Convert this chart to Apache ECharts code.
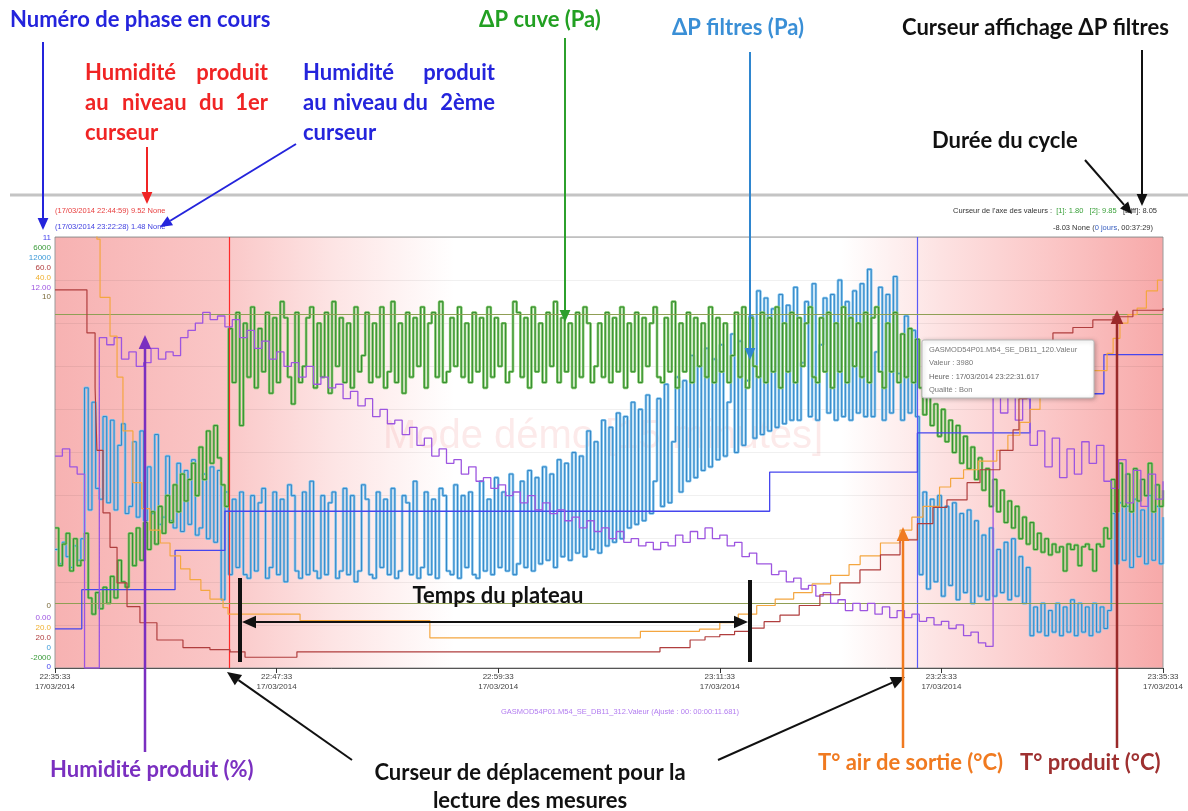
<!DOCTYPE html>
<html><head><meta charset="utf-8">
<script src="https://cdn.jsdelivr.net/npm/echarts@6/dist/echarts.min.js"></script>
<style>html,body{margin:0;padding:0;background:#fff}#c{width:1188px;height:811px}</style>
</head><body><div id="c"></div>
<script>
// ---------------- DATA ----------------
const startTime = '22:35:33';
const dateLabel = '17/03/2014';
const xTickInterval = 12; // minutes
const xMax = 60;

// ΔP filtres (Pa), one value every 0.2 min from 22:35:33
const filtresStep = 0.2;
const filtres = [
  3300,2900,3500,3100,2800,3400,3000,3600,7800,4400,
  7400,5000,4700,7000,4600,6900,4400,6200,6800,4300,
  4500,6300,4200,6600,4100,5600,4300,6500,4000,4200,
  5900,4100,3900,5700,3800,5500,4000,5800,3700,3900,
  5400,3600,5600,3500,5500,1900,4900,2600,4700,2800,
  4900,2600,2500,4800,2700,4600,5000,2500,2800,4900,
  2600,4700,2400,5100,4800,2700,2500,4900,2600,5200,
  2700,2500,4800,2600,4600,4900,2500,2700,5000,2600,
  4800,2400,2700,5100,4700,2600,2500,4900,2800,4700,
  2600,5000,2500,2700,4800,4600,2600,5200,2500,2800,
  4900,2600,4700,2500,5000,4800,2700,2600,5100,2500,
  4800,2800,4900,2600,2500,5200,2700,4700,2600,5300,
  2800,4900,2700,5400,2600,2900,5200,2800,5500,2700,
  5300,2900,5600,3000,5400,2800,5800,3100,5700,3000,
  6000,3200,5900,3100,6600,3300,6300,3200,6900,3400,
  6700,3500,7100,3600,7000,3900,7400,4000,7200,4100,
  7600,4300,5200,7500,4500,7900,4600,6300,8100,4900,
  8000,5200,8700,5300,8400,5500,8900,5600,8600,5800,
  9000,5900,7400,9300,6000,9100,6200,8000,9800,6400,
  10500,6500,10300,6600,10000,6700,10400,6800,10100,6900,
  10600,6900,8500,10200,7000,10700,6900,9000,10300,7100,
  10400,6900,10800,7000,10200,6900,10500,7100,10700,7000,
  11100,7000,8800,10600,6900,10400,7100,10900,8200,6900,
  9800,7100,9400,7000,
  2600,4900,2200,4700,2400,4800,
  2000,4500,2300,4600,1900,4300,2100,4400,1800,4100,
  2000,3700,1900,3900,2000,3300,2100,3500,1900,3600,
  2000,3100,1800,2800,
  900,1700,1000,1800,900,1600,
  1000,1800,900,1700,1000,1900,900,1800,1000,1700,
  900,1800,1000,1700,1100,1600,
  4300,2900,4600,3000,4500,2800,4700,3100,4400,2900,4800,3000,4500,2900,4200
];

// ΔP cuve (Pa), one value every 0.2 min
const cuveStep = 0.2;
const cuve = [
  600,-100,300,500,-200,400,-100,0,500,-700,
  -1000,-600,-900,-500,-800,-300,-700,0,-400,-500,
  500,-100,600,0,700,200,900,300,1000,500,
  1200,700,1400,900,1600,1100,1500,1800,1200,2100,
  1500,2400,1800,2500,1900,1400,1000,4300,3300,4600,
  2500,4400,3400,4700,3200,4300,3500,4600,3100,4500,
  3300,4800,4500,3400,2900,4600,3300,3600,4500,4700,
  3200,4400,3400,4600,3100,4800,3600,4500,3300,4400,
  3200,4700,3500,3800,4600,3300,4400,3400,4700,3200,
  3500,4800,3300,4400,3100,4600,3400,4500,3600,4700,
  3200,4400,4600,3400,4800,3300,3500,4500,3600,4700,
  3400,4400,3300,4600,3500,4500,3200,4700,3400,4500,
  3600,4400,3300,3500,4800,4600,3400,4500,3200,4700,
  3500,4400,3300,4600,3600,4800,3300,4500,3500,4400,
  3200,4600,3400,4700,4400,3300,3600,4400,3400,4600,
  3300,4500,3500,4700,3200,4400,3500,4600,3300,4500,
  3600,4400,4700,3400,3300,4500,3500,4800,3200,4400,
  3500,4600,3300,4500,3600,4400,3400,4700,3300,4500,
  3500,4400,3300,3800,4600,3400,4700,3200,4500,3600,
  3400,4600,3300,4500,3500,4700,3200,4400,3500,4600,
  3300,4500,3600,4400,4700,3400,3300,4500,3500,4600,
  3200,4400,3500,4700,3300,4500,3600,4400,3400,4600,
  3300,4500,4700,3500,3200,4400,3500,4600,3300,4200,
  3400,4300,3300,4100,
  3200,2700,3100,2500,2900,2300,
  2800,2200,2600,2000,2500,1800,2300,1700,2100,1500,
  1900,1300,1700,1000,1500,900,1300,700,1100,600,
  1000,400,800,300,700,200,500,150,400,100,
  300,150,250,-200,300,200,280,-100,250,300,
  200,-200,300,250,600,400,
  1500,900,1800,1000,1600,900,1700,1100,1500,1200,1800,900,1400,1000,1300
];

// Humidité produit (%), one value every 0.4 min
const humStep = 0.4;
const humidite = [
  5.9,6.1,5.6,5.4,0,0,9.2,9.0,9.2,8.6,
  8.8,8.4,8.5,8.9,8.6,8.8,8.7,9.2,9.4,9.6,
  9.9,9.7,9.8,9.5,9.7,9.2,9.4,8.9,9.1,8.6,
  8.8,8.4,8.5,8.1,8.4,7.9,8.1,7.8,7.9,7.5,
  7.7,7.3,7.5,7.0,7.2,6.8,6.9,6.5,6.7,6.2,
  6.4,5.9,6.1,5.7,5.8,5.4,5.6,5.2,5.3,5.0,
  5.1,4.8,4.9,4.6,4.8,4.4,4.6,4.3,4.4,4.1,
  4.2,3.9,4.1,3.8,3.9,3.6,3.8,3.5,3.6,3.4,
  3.5,3.3,3.5,3.4,3.7,3.5,3.8,3.6,3.9,3.6,
  3.7,3.4,3.5,3.1,3.2,2.9,2.9,2.6,2.7,2.4,
  2.5,2.2,2.3,2.0,2.1,1.8,1.9,1.6,1.8,1.6,
  1.8,1.5,1.7,1.4,1.6,1.4,1.5,1.3,1.4,1.2,
  1.3,1.1,1.2,0.9,1.0,0.7,0.6,7.6,7.1,7.8,
  6.9,7.5,6.2,6.6,5.6,6.4,5.3,6.1,5.4,6.3,
  5.7,6.2,5.2,5.0,5.8,4.6,5.5,4.5,5.4,4.7,5.2
];

// T° air de sortie (°C): [minute, value]
const tAir = [
  [0,46],[2.0,41],[2.27,39.9],[2.44,37.2],[2.98,35.4],[3.36,33.5],[3.68,31.0],[4.22,28.6],
  [4.7,27.4],[5.14,26.4],[5.7,25.8],[6.23,25.2],[6.8,24.6],[7.31,24.1],[7.9,23.6],[8.39,23.2],
  [9.1,22.8],[9.37,22.5],[13.27,22.2],[20.3,21.4],[31.7,21.7],[34.9,21.8],[36.0,22.1],[37.0,22.5],
  [38.0,22.9],[39.0,23.2],[40.0,23.5],[41.0,23.9],[42.0,24.3],[43.0,24.8],[43.6,25.2],[44.7,25.8],
  [45.76,26.4],[46.4,27.0],[47.0,27.5],[47.9,28.4],[48.5,28.8],[49.2,29.2],[50.0,29.6],[51.0,30.1],
  [51.6,30.8],[52.25,31.4],[52.8,32.0],[53.34,32.6],[54.0,32.9],[54.8,33.2],[55.5,33.5],[56.2,33.8],
  [56.97,34.6],[57.3,35.3],[57.67,36.0],[58.1,36.4],[58.6,36.7],[59.1,37.5],[59.7,38.0],[60,38.0]
];

// T° produit (°C): [minute, value]
const tProduit = [
  [0,55.1],[1.73,51.1],[2.17,46],[2.27,40.2],[2.6,34.4],[2.98,31.2],[3.36,27.9],[3.9,25.7],
  [4.6,24.2],[5.52,22.6],[6.93,21.9],[8.39,21.7],[9.48,21.5],[10.29,21.0],[13.1,21.5],[32.76,21.9],
  [34.39,22.6],[35.2,22.9],[36.0,23.1],[36.8,23.4],[37.6,23.7],[38.4,24.3],[39.26,24.9],[40.3,25.8],
  [41.42,26.8],[42.5,27.9],[43.59,29.1],[44.7,30.5],[45.76,31.9],[46.7,33.4],[47.54,34.9],[48.3,35.6],
  [49.39,37.2],[50.09,38.4],[51.17,40.2],[51.88,42.1],[52.2,45.0],[52.63,48.9],[53.3,50.2],[54.04,51.1],
  [55.12,51.6],[56.2,52.3],[57.29,52.6],[58.37,53.2],[60,53.4]
];

// Numéro de phase: [minute, phase]
const phase = [[0,1],[1.45,2],[6.5,3],[9.2,4],[38.7,5],[46.7,6],[52.8,7],[56.8,8],[60,8]];

// Cursors
const cursor1 = 9.43;   // 22:44:59
const cursor2 = 46.7;   // ~23:22:28
const valueCursors = [1.80, 9.85];

// Axis ranges (labels shown at top / bottom of the value axes)
const axisTop    = ['11','6000','12000','60.0','40.0','12.00','10'];
const axisBottom = ['0','0.00','20.0','20.0','0','-2000','0'];

// ---------------- CHART ----------------
const C = {
  filtres:'#3d9ad8', filtresLight:'#86c6ee', filtresDark:'#2a7fc2',
  cuve:'#3a9a3a', cuveLight:'#84c86c', cuveDark:'#2a862a',
  hum:'#9d55e0', air:'#f4a640', prod:'#b03e3e', phase:'#4646ee', olive:'#8f9f55'
};
function timeLabel(m){
  const p = startTime.split(':').map(Number);
  let t = p[0]*3600 + p[1]*60 + p[2] + Math.round(m*60);
  const h = Math.floor(t/3600)%24, mi = Math.floor((t%3600)/60), s = t%60;
  const z = n => (n<10?'0':'')+n;
  return z(h)+':'+z(mi)+':'+z(s);
}
const idx = (arr, step) => arr.map((v,i)=>[+(i*step).toFixed(3), v]);

const chart = echarts.init(document.getElementById('c'), null, {renderer:'canvas'});

const F = "'Lato','Open Sans',sans-serif";
const S = "'Liberation Sans','Arial',sans-serif";
const G = [];
function txt(x,y,s,color,size,opt){
  opt = opt||{};
  G.push({type:'text', x:x, y:y, z:opt.z||100, silent:true,
    style:{text:s, fill:color, font:(opt.weight||'bold')+' '+size+'px '+(opt.family||F),
      align:opt.align||'left', verticalAlign:'middle', textAlign:opt.align||'left', textVerticalAlign:'middle',
      rich:opt.rich}});
}
function arrow(x1,y1,x2,y2,color,w,hl){
  hl = hl||12; const a = Math.atan2(y2-y1,x2-x1), hw = hl*0.45;
  const bx = x2-hl*Math.cos(a), by = y2-hl*Math.sin(a);
  G.push({type:'line', z:100, silent:true, shape:{x1:x1,y1:y1,x2:bx,y2:by}, style:{stroke:color,lineWidth:w}});
  G.push({type:'polygon', z:100, silent:true, shape:{points:[[x2,y2],[bx+hw*Math.sin(a),by-hw*Math.cos(a)],[bx-hw*Math.sin(a),by+hw*Math.cos(a)]]}, style:{fill:color}});
}

// background gradient of the plot area
G.push({type:'rect', z:-10, silent:true, shape:{x:55,y:237,width:1108,height:431},
  style:{fill:new echarts.graphic.LinearGradient(0,0,1,0,[
    {offset:0,color:'#f7b2b2'},{offset:0.15,color:'#fac6c6'},{offset:0.25,color:'#fde4e4'},
    {offset:0.36,color:'#ffffff'},{offset:0.71,color:'#ffffff'},{offset:0.8,color:'#fde2e2'},
    {offset:0.9,color:'#fbc6c6'},{offset:1,color:'#f7a9a9'}])}});
// watermark
txt(603,437,'Mode démo [15 minutes]','rgba(240,150,150,0.2)',40,{weight:'normal',family:S,align:'center',z:-5});

// header line and texts
G.push({type:'line', z:50, silent:true, shape:{x1:10,y1:195,x2:1188,y2:195}, style:{stroke:'#c4c4c4',lineWidth:3}});
txt(55,211,'(17/03/2014 22:44:59) 9.52 None','#e84040',7.5,{weight:'normal',family:S});
txt(55,227,'(17/03/2014 23:22:28) 1.48 None','#4040e0',7.5,{weight:'normal',family:S});
txt(1157,211,"{a|Curseur de l'axe des valeurs :}  {g|[1]: 1.80   [2]: 9.85}   {a|[Diff]: 8.05}",'#333',7.5,
  {weight:'normal',family:S,align:'right',rich:{a:{fill:'#333',font:'7.5px '+S},g:{fill:'#3aa03a',font:'7.5px '+S}}});
txt(1153,228,"{a|-8.03 None (}{b|0 jours}{a|, 00:37:29)}",'#333',7.5,
  {weight:'normal',family:S,align:'right',rich:{a:{fill:'#333',font:'7.5px '+S},b:{fill:'#3a60c0',font:'7.5px '+S}}});

// axis end labels
const topColors = [C.phase,C.cuve,C.filtres,C.prod,'#f0b030',C.hum,'#7a6a3a'];
const topY = [238,248,258,268,278,288,297];
axisTop.forEach((s,i)=>txt(51,topY[i],s,topColors[i],8,{weight:'normal',family:S,align:'right'}));
const botColors = ['#7a6a3a',C.hum,'#f0b030',C.prod,C.filtres,C.cuve,C.phase];
const botY = [606,618,628,638,648,658,667];
axisBottom.forEach((s,i)=>txt(51,botY[i],s,botColors[i],8,{weight:'normal',family:S,align:'right'}));

// bottom series label
txt(620,712,'GASMOD54P01.M54_SE_DB11_312.Valeur (Ajusté : 00: 00:00:11.681)','#b27cf0',7.5,{weight:'normal',family:S,align:'center'});

// tooltip box
G.push({type:'rect', z:90, silent:true, shape:{x:922,y:340,width:172,height:58,r:2},
  style:{fill:'#ffffff',stroke:'#b8b8b8',lineWidth:1,shadowBlur:4,shadowColor:'rgba(0,0,0,0.25)',shadowOffsetX:1,shadowOffsetY:1}});
txt(929,350,'GASMOD54P01.M54_SE_DB11_120.Valeur','#777',7.5,{weight:'normal',family:S,z:95});
txt(929,363,'Valeur : 3980','#777',7.5,{weight:'normal',family:S,z:95});
txt(929,377,'Heure : 17/03/2014 23:22:31.617','#666',7.5,{weight:'normal',family:S,z:95});
txt(929,390,'Qualité : Bon','#777',7.5,{weight:'normal',family:S,z:95});

// annotations
const AS = 22;
txt(10,20,'Numéro de phase en cours','#2424dc',AS);
arrow(43,42,43,230,'#2424dc',2,12);
const red = '#f02424', blu = '#2424dc';
txt(85,73,'Humidité',red,AS); txt(268,73,'produit',red,AS,{align:'right'});
txt(85,103,'au',red,AS); txt(122,103,'niveau',red,AS); txt(199,103,'du',red,AS); txt(268,103,'1er',red,AS,{align:'right'});
txt(85,133,'curseur',red,AS);
arrow(147,147,147,204,red,2,12);
txt(303,73,'Humidité',blu,AS); txt(495,73,'produit',blu,AS,{align:'right'});
txt(303,103,'au',blu,AS); txt(333,103,'niveau',blu,AS); txt(403,103,'du',blu,AS); txt(495,103,'2ème',blu,AS,{align:'right'});
txt(303,133,'curseur',blu,AS);
arrow(296,144,160,227,blu,2,12);
txt(540,20,'ΔP cuve (Pa)','#22a022',AS,{align:'center'});
arrow(565,38,565,322,'#2ca02c',2,12);
txt(738,28,'ΔP filtres (Pa)','#3a8fd6',AS,{align:'center'});
arrow(750,52,750,360,'#2f86cf',2,12);
txt(902,28,'Curseur affichage ΔP filtres','#111',AS);
arrow(1142,50,1142,206,'#111',2,12);
txt(932,141,'Durée du cycle','#111',AS);
arrow(1085,160,1132,214,'#111',2,12);
txt(50,770,'Humidité produit (%)','#7a2fc0',AS);
arrow(145,752,145,335,'#7a2fc0',2.5,14);
txt(530,773,'Curseur de déplacement pour la','#111',AS,{align:'center'});
txt(530,801,'lecture des mesures','#111',AS,{align:'center'});
arrow(352,760,227,672,'#111',2,14);
arrow(718,760,905,677,'#111',2,14);
txt(498,596,'Temps du plateau','#111',AS,{align:'center'});
arrow(400,622,242,622,'#111',2,14);
arrow(600,622,748,622,'#111',2,14);
G.push({type:'line', z:100, silent:true, shape:{x1:400,y1:622,x2:600,y2:622}, style:{stroke:'#111',lineWidth:2}});
G.push({type:'line', z:100, silent:true, shape:{x1:240,y1:578,x2:240,y2:662}, style:{stroke:'#111',lineWidth:4}});
G.push({type:'line', z:100, silent:true, shape:{x1:750,y1:580,x2:750,y2:662}, style:{stroke:'#111',lineWidth:4}});
txt(818,763,'T° air de sortie (°C)','#f07a20',AS);
arrow(903,748,903,527,'#f07a20',2.5,14);
txt(1020,763,'T° produit (°C)','#9e3030',AS);
arrow(1117,748,1117,310,'#9a2a2a',2.5,14);

const hiddenY = (min,max) => ({type:'value', min:min, max:max, show:false});
const filtresData = idx(filtres,filtresStep), cuveData = idx(cuve,cuveStep);

chart.setOption({
  animation:false,
  backgroundColor:'#ffffff',
  grid:{left:55, right:25, top:237, bottom:143, show:true, borderColor:'#9a9a9a', borderWidth:1, backgroundColor:'transparent'},
  xAxis:{type:'value', min:0, max:xMax, interval:xTickInterval,
    axisLine:{lineStyle:{color:'#555'}}, axisTick:{length:5, lineStyle:{color:'#333'}},
    splitLine:{show:false},
    axisLabel:{formatter:v=>timeLabel(v)+'\n'+dateLabel, fontSize:8, color:'#444', fontFamily:S, lineHeight:10, margin:4}},
  yAxis:[
    {type:'value', min:0, max:12, interval:1.2, axisLabel:{show:false}, axisLine:{show:false}, axisTick:{show:false},
      splitLine:{show:true, lineStyle:{color:'rgba(0,0,0,0.06)'}}},
    hiddenY(0,12000), hiddenY(-2000,6000), hiddenY(20,40), hiddenY(20,60), hiddenY(0,11)
  ],
  series:[
    {name:'ΔP filtres', type:'line', yAxisIndex:1, step:'end', symbol:'none', data:filtresData,
      lineStyle:{color:C.filtresLight, width:2.6}, z:3},
    {name:'ΔP filtres ', type:'line', yAxisIndex:1, step:'end', symbol:'none', data:filtresData,
      lineStyle:{color:C.filtresDark, width:0.9}, z:3},
    {name:'ΔP cuve', type:'line', yAxisIndex:2, step:'end', symbol:'none', data:cuveData,
      lineStyle:{color:C.cuveLight, width:2.6}, z:4},
    {name:'ΔP cuve ', type:'line', yAxisIndex:2, step:'end', symbol:'none', data:cuveData,
      lineStyle:{color:C.cuveDark, width:0.9}, z:4},
    {name:'Phase', type:'line', yAxisIndex:5, step:'end', symbol:'none', data:phase,
      lineStyle:{color:C.phase, width:1.3}, z:5,
      markLine:{silent:true, symbol:'none', label:{show:false},
        data:[{xAxis:cursor1, lineStyle:{color:'#ff2a2a', width:1.2, type:'solid'}},
              {xAxis:cursor2, lineStyle:{color:'#5a5af8', width:1.2, type:'solid'}}]}},
    {name:'Humidité', type:'line', yAxisIndex:0, step:'end', symbol:'none', data:idx(humidite,humStep),
      lineStyle:{color:C.hum, width:1.3}, z:6,
      markLine:{silent:true, symbol:'none', label:{show:false}, lineStyle:{color:C.olive, width:1, type:'solid'},
        data:valueCursors.map(v=>({yAxis:v}))}},
    {name:'T° air', type:'line', yAxisIndex:3, step:'end', symbol:'none', data:tAir,
      lineStyle:{color:C.air, width:1.2}, z:7},
    {name:'T° produit', type:'line', yAxisIndex:4, step:'end', symbol:'none', data:tProduit,
      lineStyle:{color:C.prod, width:1.2}, z:8}
  ],
  graphic:{elements:G}
});
</script></body></html>
